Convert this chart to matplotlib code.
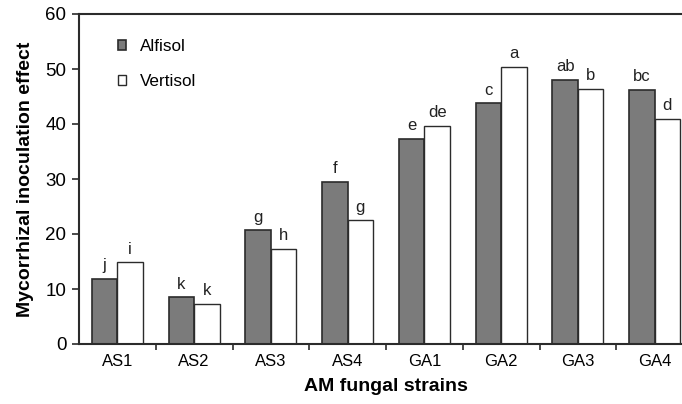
import matplotlib.pyplot as plt
import numpy as np

plt.rcParams['font.family'] = ['Liberation Sans', 'DejaVu Sans']

strains = ['AS1', 'AS2', 'AS3', 'AS4', 'GA1', 'GA2', 'GA3', 'GA4']
alfisol = [11.9, 8.5, 20.7, 29.5, 37.3, 43.8, 48.0, 46.2]
vertisol = [14.85, 7.3, 17.3, 22.5, 39.7, 50.4, 46.4, 41.0]
alfisol_letters = ['j', 'k', 'g', 'f', 'e', 'c', 'ab', 'bc']
vertisol_letters = ['i', 'k', 'h', 'g', 'de', 'a', 'b', 'd']

fig = plt.figure(figsize=(6.82, 4.04), dpi=100)
# right edge of the axes runs past the figure
ax = fig.add_axes([79 / 682, (404 - 344) / 404, (693 - 79) / 682, 330 / 404])

x = np.arange(len(strains))
w = 0.333
edge = '#2b2b2b'
b1 = ax.bar(x - w / 2, alfisol, w, color='#7b7b7b', edgecolor=edge, linewidth=1.2, label='Alfisol')
b2 = ax.bar(x + w / 2, vertisol, w, color='white', edgecolor=edge, linewidth=1.0, label='Vertisol')

for bars, letters in ((b1, alfisol_letters), (b2, vertisol_letters)):
    for bar, lab in zip(bars, letters):
        ax.annotate(lab, (bar.get_x() + bar.get_width() / 2, bar.get_height()),
                    xytext=(0, 4), textcoords='offset points',
                    ha='center', va='bottom', fontsize=12, color='#222222')

ax.set_xlim(-0.5, len(strains) - 0.5)
ax.set_ylim(0, 60)
ax.set_yticks(range(0, 61, 10))
ax.set_xticks(x)
ax.set_xticklabels(strains, fontsize=12)
ax.set_xticks(np.arange(0.5, len(strains) - 0.5, 1), minor=True)
ax.tick_params(axis='x', which='major', length=0, pad=7)
ax.tick_params(axis='x', which='minor', length=4, width=1.2, color=edge, direction='out')
ax.tick_params(axis='y', labelsize=13.5, length=5, width=1.2, color=edge, pad=4)

for side in ('left', 'bottom', 'top'):
    ax.spines[side].set_linewidth(1.5)
    ax.spines[side].set_color(edge)
ax.spines['right'].set_visible(False)

ax.set_ylabel('Mycorrhizal inoculation effect', fontsize=14, fontweight='bold', labelpad=8)
ax.set_xlabel('AM fungal strains', fontsize=14, fontweight='bold', labelpad=7)

ax.legend(loc='upper left', bbox_to_anchor=(0.038, 0.97), frameon=False, fontsize=12.3,
          handlelength=0.5, handleheight=0.5, handletextpad=0.8, labelspacing=1.15)

fig.savefig('out.png', dpi=100)
